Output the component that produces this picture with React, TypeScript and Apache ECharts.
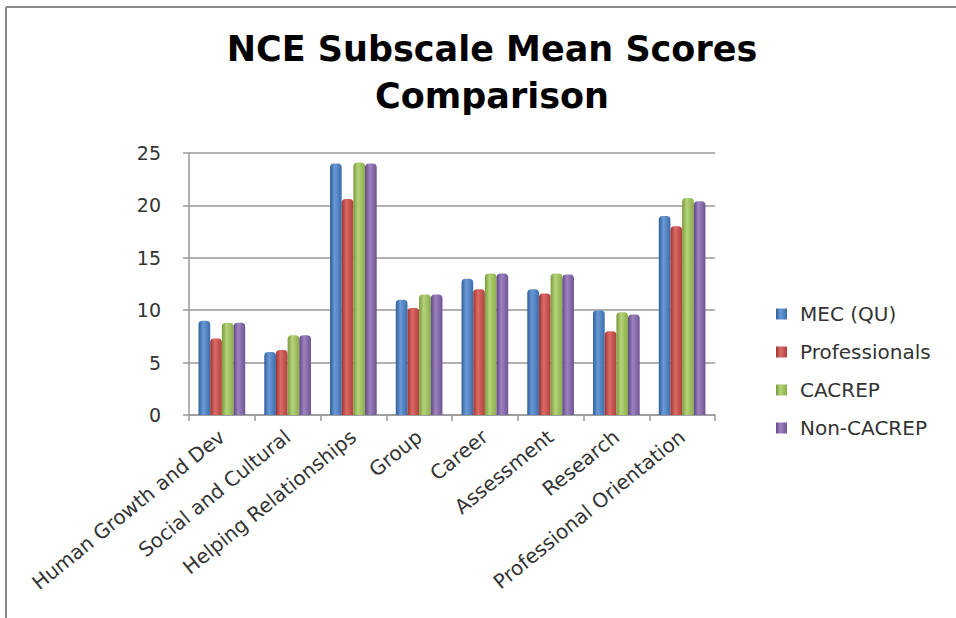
import React, { useEffect, useRef } from "react";
import * as echarts from "echarts";

const categories = [
  "Human Growth and Dev",
  "Social and Cultural",
  "Helping Relationships",
  "Group",
  "Career",
  "Assessment",
  "Research",
  "Professional Orientation",
];
const seriesNames = ["MEC (QU)", "Professionals", "CACREP", "Non-CACREP"];
const mecQU = [9.0, 6.0, 24.0, 11.0, 13.0, 12.0, 10.0, 19.0];
const professionals = [7.3, 6.2, 20.6, 10.2, 12.0, 11.6, 8.0, 18.0];
const cacrep = [8.8, 7.6, 24.1, 11.5, 13.5, 13.5, 9.8, 20.7];
const nonCacrep = [8.8, 7.6, 24.0, 11.5, 13.5, 13.4, 9.6, 20.4];
const yTicks = [0, 5, 10, 15, 20, 25];

const palette = [
  ["#2f5f99", "#6a9ad6", "#3b6cab"],
  ["#9c3431", "#dc6a66", "#b0413e"],
  ["#7a9a3c", "#b5d37a", "#8aad48"],
  ["#5f4782", "#9c82bf", "#6f5593"],
];

function grad(c: string[]) {
  return new echarts.graphic.LinearGradient(0, 0, 1, 0, [
    { offset: 0, color: c[0] },
    { offset: 0.4, color: c[1] },
    { offset: 1, color: c[2] },
  ]);
}

const FONT = "DejaVu Sans";

export default function App() {
  const ref = useRef<HTMLDivElement>(null);
  useEffect(() => {
    if (!ref.current) return;
    const chart = echarts.init(ref.current, null, { renderer: "svg" });
    const data = [mecQU, professionals, cacrep, nonCacrep];
    chart.setOption({
      animation: false,
      backgroundColor: "#ffffff",
      color: ["#4F81BD", "#C0504D", "#9BBB59", "#8064A2"],
      title: {
        text: "NCE Subscale Mean Scores\nComparison",
        left: 487,
        textAlign: "center",
        top: 20,
        textStyle: {
          fontFamily: FONT,
          fontWeight: "bold",
          fontSize: 35,
          lineHeight: 47,
          color: "#000000",
        },
      },
      legend: {
        orient: "vertical",
        left: 771,
        top: 299,
        itemWidth: 11,
        itemHeight: 11,
        itemGap: 18,
        icon: "rect",
        data: seriesNames,
        textStyle: {
          fontFamily: FONT,
          fontSize: 20,
          lineHeight: 20,
          color: "#333333",
          padding: [0, 0, 0, 8],
        },
      },
      grid: {
        left: 189,
        right: 241,
        top: 153,
        bottom: 203,
        containLabel: false,
      },
      xAxis: {
        type: "category",
        data: categories,
        axisLine: { lineStyle: { color: "#999999", width: 1.5 } },
        axisTick: { show: true, length: 6, lineStyle: { color: "#999999", width: 1.5 } },
        axisLabel: {
          rotate: 39,
          interval: 0,
          margin: 19,
          fontFamily: FONT,
          fontSize: 20,
          color: "#333333",
        },
      },
      yAxis: {
        type: "value",
        min: yTicks[0],
        max: yTicks[yTicks.length - 1],
        interval: 5,
        axisLine: { show: true, lineStyle: { color: "#999999", width: 1.5 } },
        axisTick: { show: true, length: 6, lineStyle: { color: "#999999", width: 1.5 } },
        splitLine: { lineStyle: { color: "#999999", width: 1.5 } },
        axisLabel: {
          margin: 28,
          fontFamily: FONT,
          fontSize: 19,
          color: "#333333",
        },
      },
      series: seriesNames.map((name, i) => ({
        name,
        type: "bar",
        data: data[i],
        barGap: "0%",
        barCategoryGap: "29%",
        itemStyle: { color: grad(palette[i]), borderRadius: [4, 4, 0, 0] },
      })),
      graphic: [
        {
          type: "line",
          shape: { x1: 6, y1: 7, x2: 956, y2: 7 },
          style: { stroke: "#888888", lineWidth: 2 },
        },
        {
          type: "line",
          shape: { x1: 6, y1: 7, x2: 6, y2: 618 },
          style: { stroke: "#888888", lineWidth: 2 },
        },
      ],
    });
    return () => chart.dispose();
  }, []);
  return (
    <div
      ref={ref}
      style={{ position: "fixed", left: 0, top: 0, width: 956, height: 618 }}
    />
  );
}
